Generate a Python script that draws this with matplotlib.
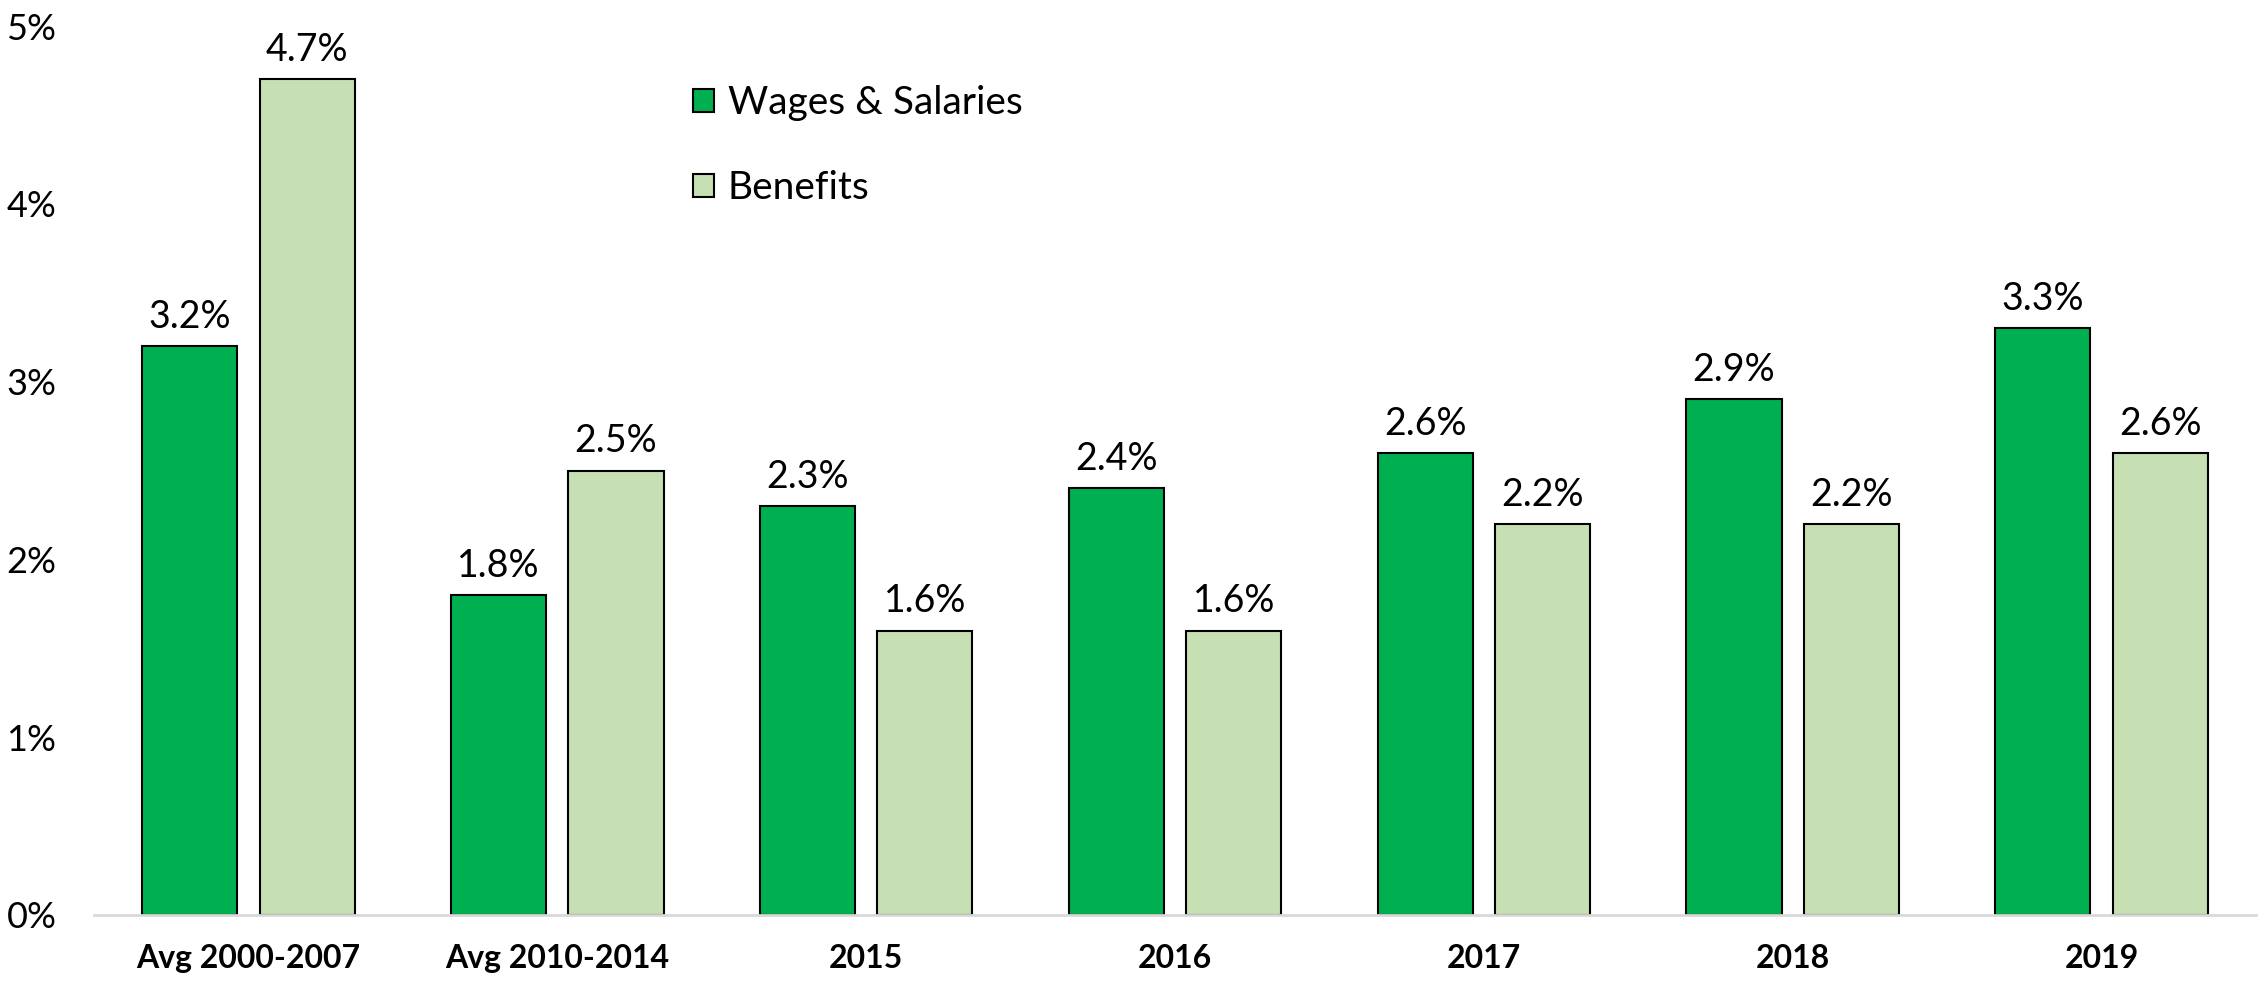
import matplotlib
matplotlib.use("Agg")
import matplotlib.pyplot as plt
import numpy as np

plt.rcParams['font.family'] = ['Lato', 'DejaVu Sans']

categories = ["Avg 2000-2007", "Avg 2010-2014", "2015", "2016", "2017", "2018", "2019"]
wages = [3.2, 1.8, 2.3, 2.4, 2.6, 2.9, 3.3]
benefits = [4.7, 2.5, 1.6, 1.6, 2.2, 2.2, 2.6]
yticks = [0, 1, 2, 3, 4, 5]
ytick_labels = ["0%", "1%", "2%", "3%", "4%", "5%"]

W, H = 2264, 984
fig = plt.figure(figsize=(W / 100, H / 100), dpi=100)
ax = fig.add_axes([94 / W, 69 / H, (2256 - 94) / W, (915 - 26) / H])

x = np.arange(len(categories))
bw = 0.308
off = 0.19
b1 = ax.bar(x - off, wages, bw, color="#00B050", edgecolor="black", linewidth=1.5,
            label="Wages & Salaries", zorder=3)
b2 = ax.bar(x + off, benefits, bw, color="#C6E0B4", edgecolor="black", linewidth=1.5,
            label="Benefits", zorder=3)

for bars, vals in ((b1, wages), (b2, benefits)):
    for r, v in zip(bars, vals):
        ax.annotate(f"{v:.1f}%", (r.get_x() + r.get_width() / 2, v),
                    xytext=(0, 8), textcoords="offset points",
                    ha="center", va="bottom", fontsize=27, color="black")

ax.set_xlim(-0.5, len(categories) - 0.5)
ax.set_ylim(0, 5)
ax.set_yticks(yticks)
ax.set_yticklabels(ytick_labels, fontsize=26)
ax.set_xticks(x)
ax.set_xticklabels(categories, fontsize=23, fontweight="bold")
ax.tick_params(axis="both", length=0)
ax.tick_params(axis="y", pad=27)
ax.tick_params(axis="x", pad=21)

for s in ("top", "right", "left"):
    ax.spines[s].set_visible(False)
ax.spines["bottom"].set_color("#D9D9D9")
ax.spines["bottom"].set_linewidth(2)
ax.spines["bottom"].set_zorder(4)

leg = ax.legend(loc="upper left", bbox_to_anchor=(0.268, 0.955), frameon=False,
                fontsize=28, handlelength=0.55, handleheight=0.55, handletextpad=0.35,
                labelspacing=1.25, borderpad=0)

fig.savefig("out.png", dpi=100, facecolor="white")
